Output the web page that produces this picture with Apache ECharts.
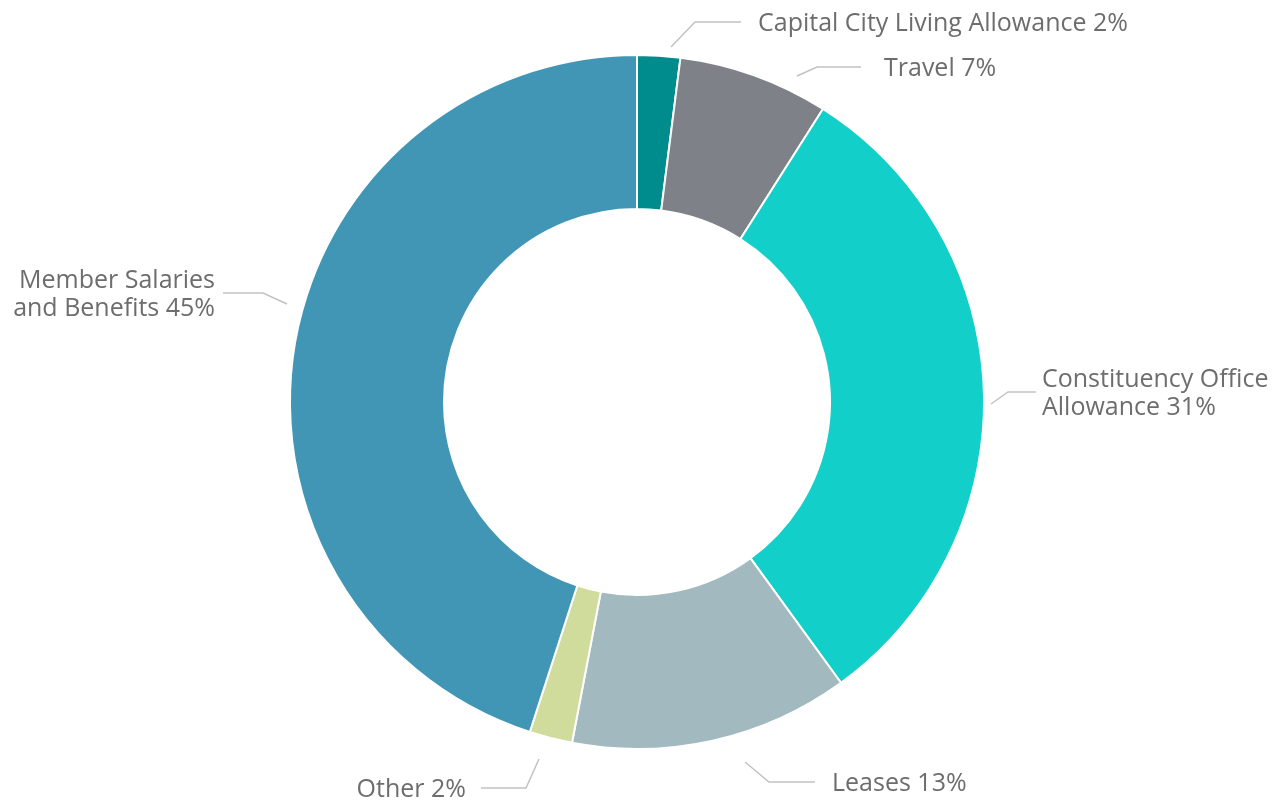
<!DOCTYPE html>
<html>
<head>
<meta charset="utf-8">
<style>
  html, body { margin: 0; padding: 0; background: #fff; }
  #chart { width: 1277px; height: 800px; }
</style>
<script src="https://cdn.jsdelivr.net/npm/echarts@6/dist/echarts.min.js"></script>
</head>
<body>
<div id="chart"></div>
<script>
// spending categories, clockwise from the top
var categories = ['Capital City Living Allowance', 'Travel', 'Constituency Office\nAllowance', 'Leases', 'Other', 'Member Salaries\nand Benefits'];
var shares = [2, 7, 31, 13, 2, 45];
var colors = ['#008b8c', '#7f8189', '#13cfc9', '#a3b9c0', '#d0dc9c', '#4096b4'];

// leader line placement (start, bend, end) as in the original layout
var leaders = [
    [[671, 47], [695, 22], [741, 22]],
    [[797, 76], [817, 67], [861, 67]],
    [[991, 404], [1008, 392], [1036, 392]],
    [[745, 762], [769, 782], [815, 782]],
    [[539, 759], [526, 788], [481, 788]],
    [[287, 304], [263, 293], [223, 293]]
];
var labelGap = [17, 23, 6, 17, 15, 8];

var chart = echarts.init(document.getElementById('chart'));

var pieData = [];
for (var i = 0; i < categories.length; i++) {
    pieData.push({ name: categories[i], value: shares[i], itemStyle: { color: colors[i] } });
}

var option = {
    animation: false,
    series: [{
        type: 'pie',
        center: [637, 402],
        radius: [193, 347],
        startAngle: 90,
        clockwise: true,
        avoidLabelOverlap: false,
        itemStyle: { borderColor: '#fff', borderWidth: 2 },
        label: {
            show: true,
            position: 'outside',
            formatter: '{b} {c}%',
            color: '#6d6d6d',
            fontFamily: 'Open Sans',
            fontSize: 25,
            lineHeight: 28,
            overflow: 'none'
        },
        labelLine: {
            show: true,
            lineStyle: { color: '#c2c2c2', width: 1.5 }
        },
        labelLayout: function (params) {
            var pts = leaders[params.dataIndex];
            var end = pts[2];
            var right = end[0] > pts[1][0];
            return {
                x: right ? end[0] + labelGap[params.dataIndex] : end[0] - labelGap[params.dataIndex],
                y: end[1] + 2,
                align: right ? 'left' : 'right',
                verticalAlign: 'middle',
                labelLinePoints: pts
            };
        },
        emphasis: { disabled: true },
        data: pieData
    }]
};
chart.setOption(option);
</script>
</body>
</html>
